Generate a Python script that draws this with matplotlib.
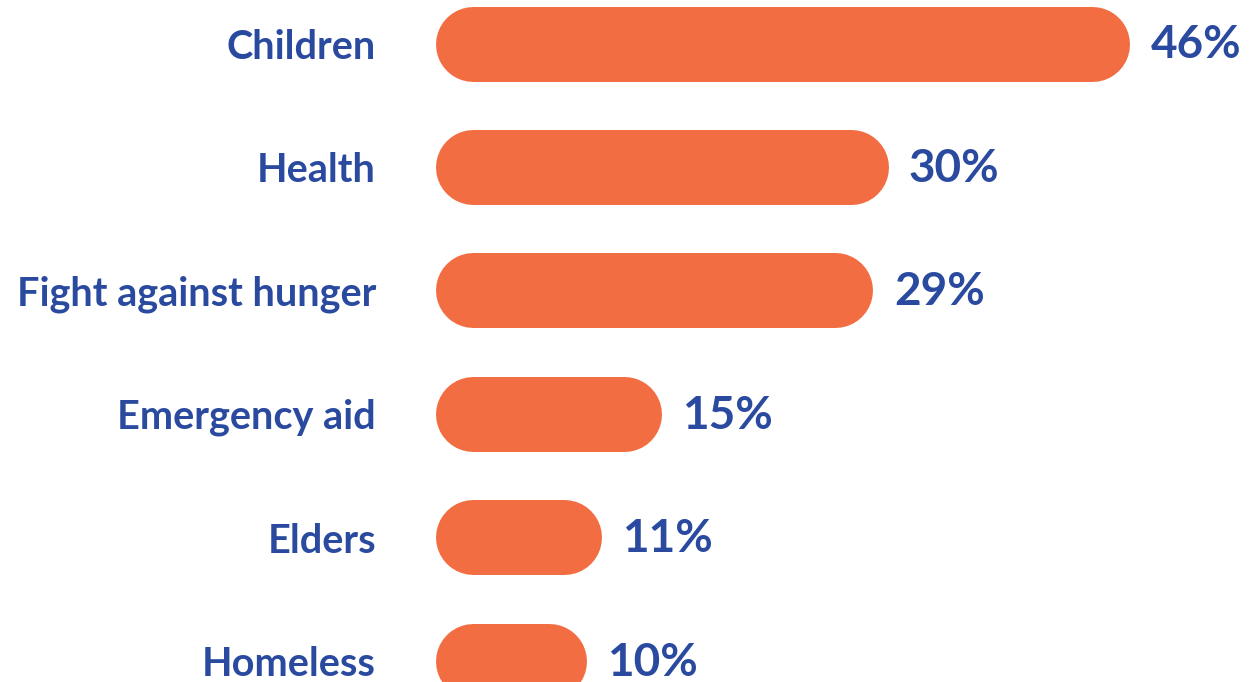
import matplotlib
matplotlib.use("Agg")
import matplotlib.pyplot as plt

categories = ["Children", "Health", "Fight against hunger", "Emergency aid", "Elders", "Homeless"]
values = [46, 30, 29, 15, 11, 10]
value_labels = ["46%", "30%", "29%", "15%", "11%", "10%"]

W, H = 1253, 682
ORANGE = "#F26E42"
BLUE = "#2A4A9F"
FONT = ["Lato", "DejaVu Sans"]

fig = plt.figure(figsize=(W / 100, H / 100), dpi=100)
ax = fig.add_axes([0, 0, 1, 1])
ax.set_axis_off()

px_per_unit_x = 15.1
x0_px = 435
row_px = 123.4
first_center_px = 43.5
bar_px = 75

ax.set_xlim(-x0_px / px_per_unit_x, (W - x0_px) / px_per_unit_x)
ax.set_ylim((H - first_center_px) / row_px, -first_center_px / row_px)

r_x = (bar_px / 2) / px_per_unit_x
lw_pt = bar_px * 72 / 100

for i, (cat, v, lab) in enumerate(zip(categories, values, value_labels)):
    ax.plot([r_x, v - r_x], [i, i], color=ORANGE, linewidth=lw_pt,
            solid_capstyle="round", clip_on=True)
    ax.text(-59 / px_per_unit_x, i + 4 / row_px, cat, ha="right", va="center",
            fontsize=28.5, fontweight="bold", color=BLUE, family=FONT)
    ax.text(v + 21 / px_per_unit_x, i + 2 / row_px, lab, ha="left", va="center",
            fontsize=33, fontweight="bold", color=BLUE, family=FONT)

fig.savefig("out.png", dpi=100)
